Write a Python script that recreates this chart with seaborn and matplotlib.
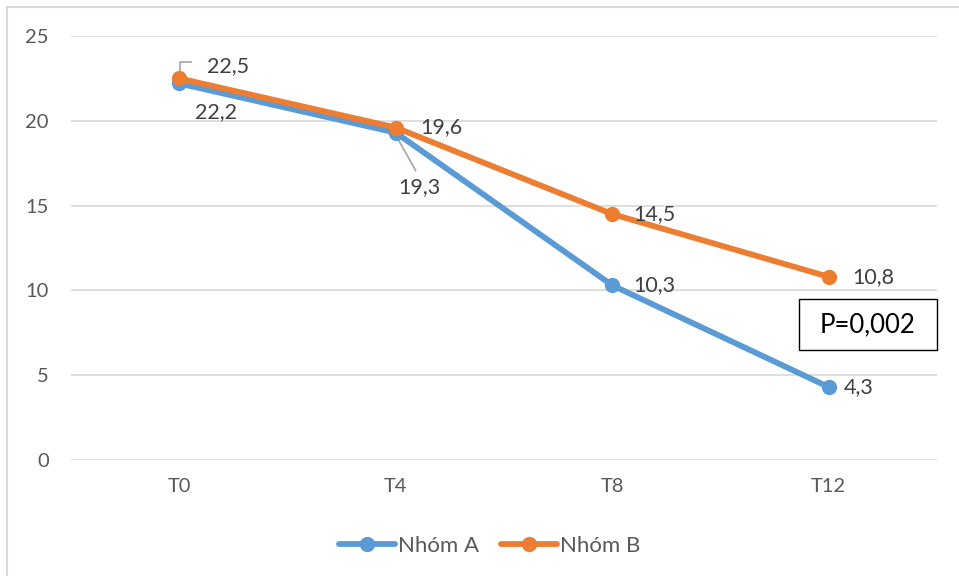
import matplotlib
matplotlib.use("Agg")
import matplotlib.pyplot as plt
from matplotlib.lines import Line2D
from matplotlib.patches import Rectangle
import seaborn as sns
import pandas as pd

timepoints = ["T0", "T4", "T8", "T12"]
group_a = [22.2, 19.3, 10.3, 4.3]
group_b = [22.5, 19.6, 14.5, 10.8]
series_names = ["Nhóm A", "Nhóm B"]
colors = ["#5B9BD5", "#ED7D31"]
yticks = [0, 5, 10, 15, 20, 25]
p_text = "P=0,002"

df = pd.DataFrame({
    "time": timepoints * 2,
    "value": group_a + group_b,
    "group": [series_names[0]] * 4 + [series_names[1]] * 4,
})

sns.set_theme(style="white")
plt.rcParams["font.family"] = ["Lato", "DejaVu Sans"]

W, H = 959, 576
fig = plt.figure(figsize=(W / 100, H / 100), dpi=100)
ax = fig.add_axes([71 / W, 1 - 460 / H, 866 / W, 424 / H])

sns.lineplot(data=df, x="time", y="value", hue="group", palette=colors,
             marker="o", markersize=11, markeredgewidth=0, linewidth=4.2,
             sort=False, legend=False, ax=ax)

ax.set_xlim(-0.5, 3.5)
ax.set_ylim(0, 25)
ax.set_yticks(yticks)
ax.set_yticklabels([str(v) for v in yticks])
ax.set_xlabel("")
ax.set_ylabel("")
for s in ax.spines.values():
    s.set_visible(False)
ax.grid(axis="y", color="#D9D9D9", linewidth=1.2)
ax.set_axisbelow(True)
ax.tick_params(axis="both", length=0, labelsize=14.5, labelcolor="#595959")
ax.tick_params(axis="y", pad=16)
ax.tick_params(axis="x", pad=13)

def fmt(v):
    return f"{v:.1f}".replace(".", ",")

label_style = dict(fontsize=15.5, color="#404040", va="center")

# data labels, offsets in points from each marker
offs_a = [(11, -20.5), (1.5, -39), (15, 0), (11, 0)]
offs_b = [(20, 9), (18, 0), (15, 0), (17, 0)]
for i, (va_, vb) in enumerate(zip(group_a, group_b)):
    ax.annotate(fmt(va_), (i, va_), xytext=offs_a[i], textcoords="offset points",
                ha="left", **label_style)
    ax.annotate(fmt(vb), (i, vb), xytext=offs_b[i], textcoords="offset points",
                ha="left", **label_style)

# leader lines for crowded labels (pixel offsets from the markers)
inv = ax.transData.inverted()
x0, y0 = ax.transData.transform((0, group_b[0]))
p1 = inv.transform((x0 + 1, y0 + 5))
p2 = inv.transform((x0 + 1, y0 + 16))
p3 = inv.transform((x0 + 13, y0 + 16))
ax.plot([p1[0], p2[0], p3[0]], [p1[1], p2[1], p3[1]], color="#A6A6A6", lw=1.2,
        zorder=1, solid_capstyle="butt")
x1, y1 = ax.transData.transform((1, group_a[1]))
q1 = inv.transform((x1 + 2, y1 - 6))
q2 = inv.transform((x1 + 20, y1 - 38))
ax.plot([q1[0], q2[0]], [q1[1], q2[1]], color="#A6A6A6", lw=1.2, zorder=1)

# p-value box
bx0, by0, bx1, by1 = 799, 299, 937, 350
fig.add_artist(Rectangle((bx0 / W, 1 - by1 / H), (bx1 - bx0) / W, (by1 - by0) / H,
                         transform=fig.transFigure, fc="white", ec="black", lw=1.0))
fig.text((bx0 + bx1) / 2 / W, 1 - (by0 + by1) / 2 / H, p_text, fontsize=18.5,
         color="black", ha="center", va="center")

handles = [Line2D([0], [0], color=c, lw=4.2, marker="o", markersize=11,
                  markeredgewidth=0) for c in colors]
fig.legend(handles, series_names, loc="center", bbox_to_anchor=(490 / W, 1 - 546 / H),
           ncol=2, frameon=False, fontsize=16, handlelength=2.5, handletextpad=0.15,
           columnspacing=1.0, labelcolor="#595959")

# outer frame edges
fig.add_artist(Line2D([7 / W, 1], [1 - 6.5 / H, 1 - 6.5 / H],
                      transform=fig.transFigure, color="#D9D9D9", lw=1.5))
fig.add_artist(Line2D([7 / W, 7 / W], [0, 1 - 6.5 / H],
                      transform=fig.transFigure, color="#D9D9D9", lw=1.5))

fig.savefig("out.png", dpi=100, facecolor="white")
